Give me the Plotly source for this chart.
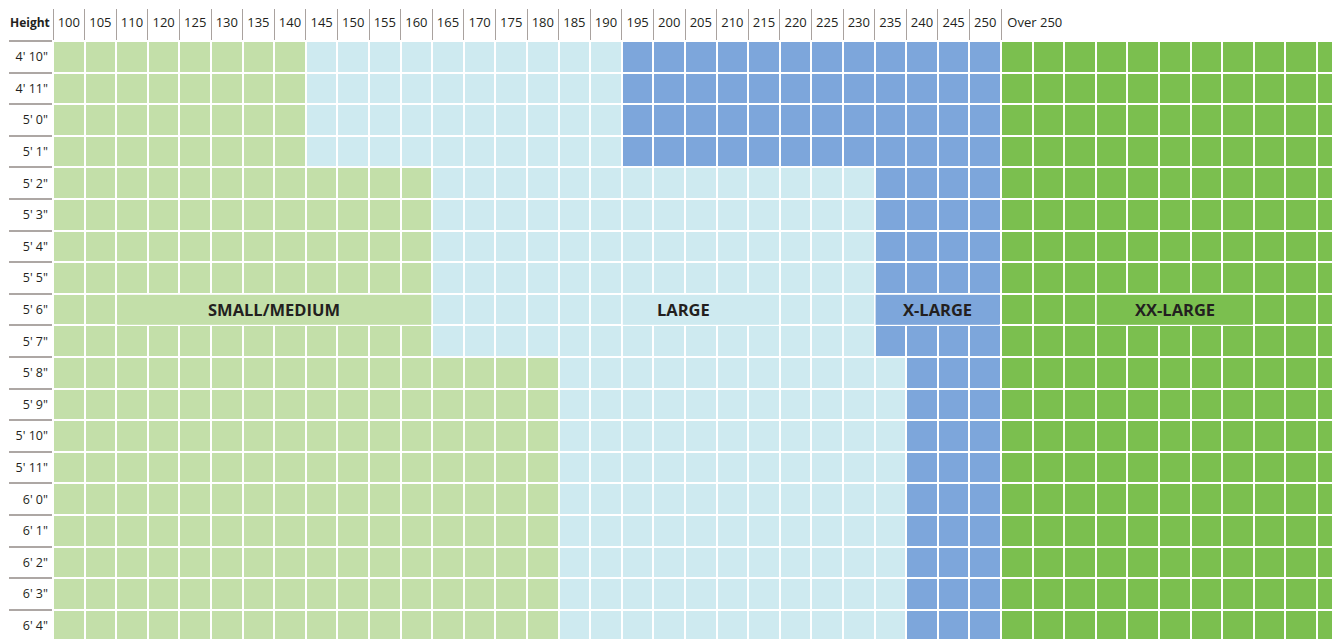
import plotly.graph_objects as go

# ---------------- data ----------------
weights = ["100", "105", "110", "120", "125", "130", "135", "140", "145", "150",
           "155", "160", "165", "170", "175", "180", "185", "190", "195", "200",
           "205", "210", "215", "220", "225", "230", "235", "240", "245", "250"]
over_label = "Over 250"
over_cols = 11  # unlabeled columns under "Over 250"

heights = ["4' 10\"", "4' 11\"", "5' 0\"", "5' 1\"", "5' 2\"", "5' 3\"", "5' 4\"",
           "5' 5\"", "5' 6\"", "5' 7\"", "5' 8\"", "5' 9\"", "5' 10\"", "5' 11\"",
           "6' 0\"", "6' 1\"", "6' 2\"", "6' 3\"", "6' 4\""]

sizes = ["SMALL/MEDIUM", "LARGE", "X-LARGE", "XX-LARGE"]
size_colors = ["#C3DFA9", "#CEEAF0", "#7DA6DB", "#7BBF4F"]

# height bands and the heaviest weight of each size in that band
band_start = ["4' 10\"", "5' 2\"", "5' 8\""]
small_max = ["140", "160", "180"]
large_max = ["190", "230", "235"]
xlarge_max = ["250", "250", "250"]

label_row = "5' 6\""

# ---------------- build grid ----------------
ncols = len(weights) + over_cols
band_rows = [heights.index(s) for s in band_start]

z = []
for r in range(len(heights)):
    b = max(i for i, br in enumerate(band_rows) if br <= r)
    s_end = weights.index(small_max[b])
    l_end = weights.index(large_max[b])
    x_end = weights.index(xlarge_max[b])
    row = []
    for c in range(ncols):
        if c <= s_end:
            row.append(0)
        elif c <= l_end:
            row.append(1)
        elif c <= x_end:
            row.append(2)
        else:
            row.append(3)
    z.append(row)

n = len(sizes)
cs = []
for i, col in enumerate(size_colors):
    cs.append([i / n, col])
    cs.append([(i + 1) / n, col])

fig = go.Figure()
fig.add_trace(go.Heatmap(
    z=z,
    x=[c + 0.5 for c in range(ncols)],
    y=[r + 0.5 for r in range(len(heights))],
    colorscale=cs, zmin=-0.5, zmax=n - 0.5, showscale=False,
    xgap=2, ygap=2, hoverinfo="skip",
))

# merged label cells on the label row (start column, end column edge, text x)
lr = heights.index(label_row)
merged = [(2, 12, 7.0), (18, 23, 19.95), (26, 30, 28.0), (33, 38, 35.5)]
annotations = []
for k, (c0, c1, tx) in enumerate(merged):
    fig.add_trace(go.Heatmap(
        z=[[z[lr][c0]]], x=[c0, c1], y=[lr, lr + 1],
        colorscale=cs, zmin=-0.5, zmax=n - 0.5, showscale=False,
        xgap=2, ygap=2, hoverinfo="skip",
    ))
    annotations.append(dict(
        x=tx, y=lr + 0.5, xref="x", yref="y", text="<b>%s</b>" % sizes[k],
        showarrow=False, font=dict(size=16.5, color="#231F20", family="Open Sans"),
        xanchor="center", yanchor="middle",
    ))

annotations.append(dict(
    x=0, y=1, xref="paper", yref="paper", text="<b>Height</b>",
    showarrow=False, xanchor="right", yanchor="bottom", xshift=-1, yshift=8,
    font=dict(size=12, color="#231F20", family="Open Sans"),
))

# page body has an 8px default margin: figure sits at (8, 8) in the window
W, H = 1332, 631
ML, MT = 45, 33
cell = 31.6
plot_w = W - ML
plot_h = H - MT

tickvals = [c + 0.5 for c in range(len(weights))] + [len(weights) + 1.07]
ticktext = weights + [over_label]

fig.update_layout(
    width=W, height=H,
    margin=dict(l=ML, r=0, t=MT, b=0, pad=0, autoexpand=False),
    plot_bgcolor="white", paper_bgcolor="white",
    font=dict(family="Open Sans", size=13, color="#231F20"),
    showlegend=False,
    annotations=annotations,
    xaxis=dict(
        range=[0, plot_w / cell], side="top", showgrid=False, zeroline=False,
        showline=False, tickvals=tickvals, ticktext=ticktext, ticks="",
        ticklabelstandoff=10, automargin=False,
        tickfont=dict(size=13, color="#231F20"), fixedrange=True,
        minor=dict(tickvals=list(range(len(weights) + 1)), ticks="outside",
                   ticklen=31, tickcolor="#A9A29F", tickwidth=1, showgrid=False),
    ),
    yaxis=dict(
        range=[plot_h / cell, 0], showgrid=False, zeroline=False, showline=False,
        tickvals=[r + 0.5 for r in range(len(heights))], ticktext=heights,
        ticks="", ticklabelstandoff=4, automargin=False,
        tickfont=dict(size=12.5, color="#231F20"), fixedrange=True,
        minor=dict(tickvals=list(range(len(heights))), ticks="outside",
                   ticklen=43, tickcolor="#ADA7A4", tickwidth=1.5, showgrid=False),
    ),
)

fig.write_html("out.html")
